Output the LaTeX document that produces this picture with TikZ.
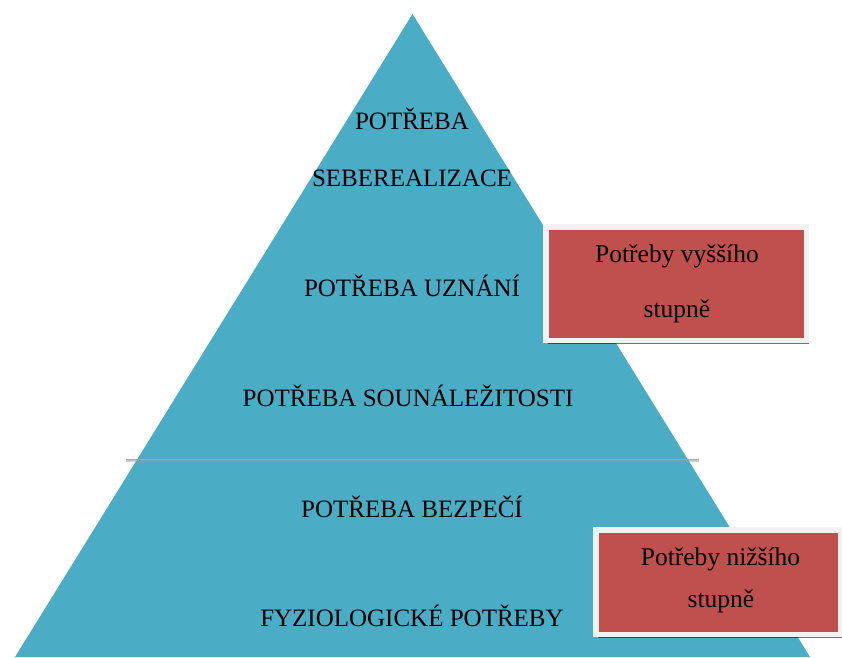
\documentclass[tikz,border=0pt]{standalone}
\usepackage{fontspec}
\setmainfont{Liberation Serif}
\usepackage{tikz}
\usetikzlibrary{positioning, shadows}
\definecolor{pyramidblue}{HTML}{4BACC6}
\definecolor{needred}{HTML}{C0504D}
\definecolor{boxrim}{HTML}{F2F2F2}
\definecolor{rulegray}{HTML}{A6A6A6}
\tikzset{%
  x=1pt, y=1pt,
  level text/.style={
    anchor=base,
    inner sep=0pt,
    font=\fontsize{25}{30}\selectfont},
  need box/.style={
    rectangle,
    fill=needred,
    draw=boxrim,
    line width=5.5pt,
    drop shadow={shadow xshift=2.5pt, shadow yshift=-3.5pt,
      fill=black, opacity=0.55}},
  box text/.style={
    anchor=base,
    inner sep=0pt,
    font=\fontsize{25.5}{30}\selectfont}
}

\begin{document}
\begin{tikzpicture}
    \useasboundingbox (0,0) rectangle (842,657);

    % pyramid
    \fill[pyramidblue] (412.5,643) -- (810,0) -- (15,0) -- cycle;
    \coordinate (ruleL) at (126,197.5);
    \coordinate (ruleR) at (699,197.5);
    \draw[black!40, line width=2pt, opacity=0.5] ([yshift=-1pt]ruleL) -- ([yshift=-1pt]ruleR);
    \draw[rulegray, line width=1.8pt] (ruleL) -- (ruleR);

    \node[level text] (self1) at (412,527) {POTŘEBA};
    \node[level text] (self2) at (412,470) {SEBEREALIZACE};
    \node[level text] (esteem) at (412,361) {POTŘEBA UZNÁNÍ};
    \node[level text] (belong) at (408,251) {POTŘEBA SOUNÁLEŽITOSTI};
    \node[level text] (safety) at (412,140) {POTŘEBA BEZPEČÍ};
    \node[level text] (physio) at (412,31) {FYZIOLOGICKÉ POTŘEBY};

    \node[need box, minimum width=260.5pt, minimum height=113.5pt] (hiBox) at (676,373.5) {};
    \node[box text] (hi1) at (677,395) {Potřeby vyššího};
    \node[box text] (hi2) at (677,340) {stupně};

    \node[need box, minimum width=244.5pt, minimum height=104.5pt] (loBox) at (718,75) {};
    \node[box text] (lo1) at (720.5,92) {Potřeby nižšího};
    \node[box text] (lo2) at (721,50) {stupně};

\end{tikzpicture}
\end{document}
